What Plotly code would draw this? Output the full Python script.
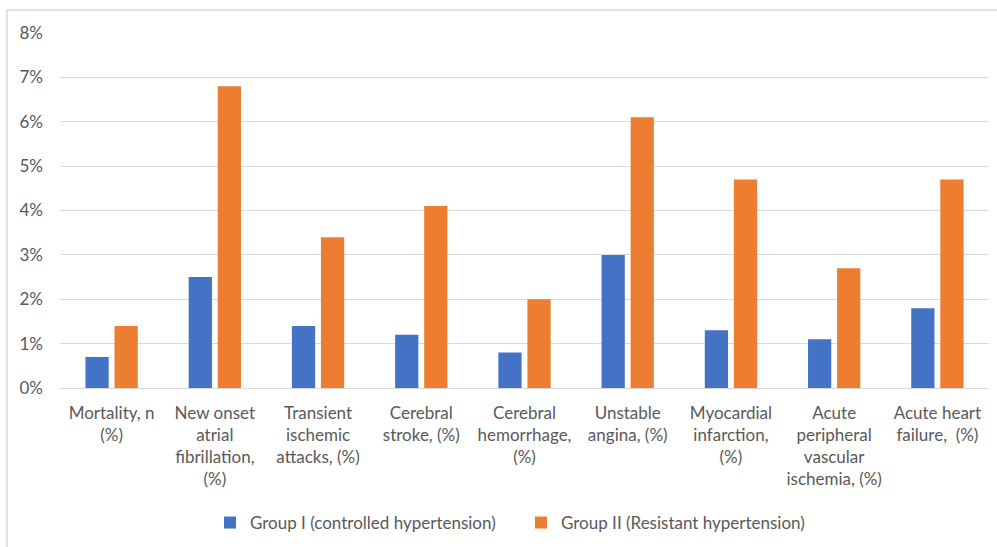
import plotly.graph_objects as go

categories = [
    "Mortality, n<br>(%)",
    "New onset<br>atrial<br>fibrillation,<br>(%)",
    "Transient<br>ischemic<br>attacks, (%)",
    "Cerebral<br>stroke, (%)",
    "Cerebral<br>hemorrhage,<br>(%)",
    "Unstable<br>angina, (%)",
    "Myocardial<br>infarction,<br>(%)",
    "Acute<br>peripheral<br>vascular<br>ischemia, (%)",
    "Acute heart<br>failure,  (%)",
]
group1 = [0.7, 2.5, 1.4, 1.2, 0.8, 3.0, 1.3, 1.1, 1.8]
group2 = [1.4, 6.8, 3.4, 4.1, 2.0, 6.1, 4.7, 2.7, 4.7]
name1 = "Group I (controlled hypertension)"
name2 = "Group II (Resistant hypertension)"
y_ticks = [0, 1, 2, 3, 4, 5, 6, 7, 8]
y_tick_labels = ["0%", "1%", "2%", "3%", "4%", "5%", "6%", "7%", "8%"]

BLUE = "#4472C4"
ORANGE = "#ED7D31"
TEXT = "#595959"
GRID = "#D9D9D9"

fig = go.Figure()
fig.add_trace(go.Bar(x=categories, y=group1, name=name1, marker_color=BLUE,
                     marker_line_width=0))
fig.add_trace(go.Bar(x=categories, y=group2, name=name2, marker_color=ORANGE,
                     marker_line_width=0))

W, H = 997, 547
L, R, T, B = 60, 8, 33, 158
pw, ph = W - L - R, H - T - B

fig.update_layout(
    width=W, height=H,
    margin=dict(l=L, r=R, t=T, b=B, pad=0),
    paper_bgcolor="white", plot_bgcolor="white",
    barmode="group", bargap=0.437, bargroupgap=0.2,
    font=dict(family="Lato, Liberation Sans, sans-serif", size=17, color=TEXT),
    showlegend=True,
    legend=dict(orientation="h", x=(521 - L) / pw, xanchor="center",
                y=-(523 - (T + ph)) / ph, yanchor="middle",
                font=dict(size=17, color=TEXT),
                entrywidth=266, entrywidthmode="pixels",
                itemclick=False, bgcolor="rgba(0,0,0,0)"),
    xaxis=dict(showgrid=False, showline=False, zeroline=False, ticks="",
               tickfont=dict(size=17, color=TEXT), ticklabelstandoff=13,
               tickangle=0),
    yaxis=dict(range=[0, 8], tickvals=y_ticks, ticktext=y_tick_labels,
               showgrid=True, gridcolor=GRID, gridwidth=1,
               zeroline=True, zerolinecolor=GRID, zerolinewidth=1,
               showline=False, ticks="", ticklabelstandoff=16,
               tickfont=dict(size=17, color=TEXT)),
    shapes=[dict(type="rect", xref="paper", yref="paper",
                 x0=(7 - L) / pw, x1=(W + 20 - L) / pw,
                 y0=(T + ph - 10) / ph, y1=-(H + 20 - (T + ph)) / ph,
                 line=dict(color="#D9D9D9", width=1.5), fillcolor="rgba(0,0,0,0)",
                 layer="above")],
)

fig.write_html("out.html", config={"displayModeBar": False},
               post_script="document.body.style.margin='0';")
